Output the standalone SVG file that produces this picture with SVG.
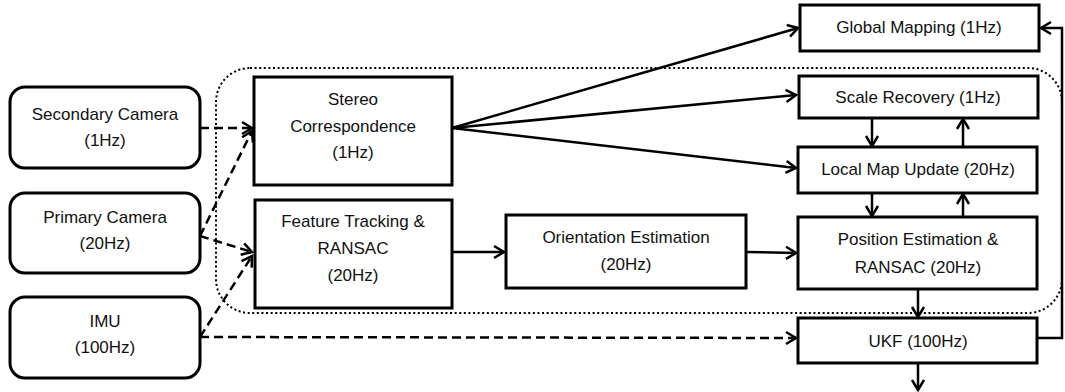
<svg xmlns="http://www.w3.org/2000/svg" width="1065" height="392" viewBox="0 0 1065 392">
<style>
.box{fill:#fff;stroke:#000;stroke-width:3}
.t{font-family:"Liberation Sans",Arial,sans-serif;font-size:17px;fill:#111;text-anchor:middle}
.c{fill:none;stroke:#000;stroke-width:2.5}
.d{fill:none;stroke:#000;stroke-width:2.5;stroke-dasharray:9 5}
.dot{fill:none;stroke:#000;stroke-width:2;stroke-dasharray:2 2.6}
</style>
<defs>
<marker id="ah" markerUnits="userSpaceOnUse" markerWidth="14" markerHeight="14" viewBox="0 0 14 14" refX="12" refY="7" orient="auto" overflow="visible">
<path d="M2,1 L12,7 L2,13" fill="none" stroke="#000" stroke-width="2.5" stroke-dasharray="none"/>
</marker>
</defs>
<rect class="dot" x="216" y="68" width="846" height="245" rx="34" ry="34"/>
<g id="connectors">
<path class="d" d="M200,128 L252,128" marker-end="url(#ah)"/>
<path class="d" d="M200,236 L252,131" marker-end="url(#ah)"/>
<path class="d" d="M200,236 L252,252" marker-end="url(#ah)"/>
<path class="d" d="M200,337 L252,256" marker-end="url(#ah)"/>
<path class="d" d="M200,337 L796,338" marker-end="url(#ah)"/>
<path class="c" d="M452,128 L798,28" marker-end="url(#ah)"/>
<path class="c" d="M452,128 L796,95" marker-end="url(#ah)"/>
<path class="c" d="M452,128 L796,168" marker-end="url(#ah)"/>
<path class="c" d="M452,252 L504,252" marker-end="url(#ah)"/>
<path class="c" d="M746,252 L796,253" marker-end="url(#ah)"/>
<path class="c" d="M872,118 L872,146" marker-end="url(#ah)"/>
<path class="c" d="M963,147 L963,119" marker-end="url(#ah)"/>
<path class="c" d="M872,193 L872,216" marker-end="url(#ah)"/>
<path class="c" d="M963,217 L963,194" marker-end="url(#ah)"/>
<path class="c" d="M918,289 L918,317" marker-end="url(#ah)"/>
<path class="c" d="M918,363 L918,390" marker-end="url(#ah)"/>
<path class="c" d="M1037,338 L1062,338 L1062,28 L1041,28" marker-end="url(#ah)"/>
</g>
<g id="secondary-camera">
<rect class="box" x="10" y="87" width="190" height="81" rx="15"/>
<text class="t" x="105" y="120">Secondary Camera</text>
<text class="t" x="105" y="146">(1Hz)</text>
</g>
<g id="primary-camera">
<rect class="box" x="10" y="193" width="190" height="80" rx="15"/>
<text class="t" x="105" y="223">Primary Camera</text>
<text class="t" x="105" y="249">(20Hz)</text>
</g>
<g id="imu">
<rect class="box" x="10" y="297" width="190" height="81" rx="15"/>
<text class="t" x="105" y="327">IMU</text>
<text class="t" x="105" y="353">(100Hz)</text>
</g>
<g id="stereo">
<rect class="box" x="254" y="77" width="198" height="108"/>
<text class="t" x="353" y="105">Stereo</text>
<text class="t" x="353" y="132">Correspondence</text>
<text class="t" x="353" y="158">(1Hz)</text>
</g>
<g id="feature-tracking">
<rect class="box" x="255" y="200" width="197" height="108"/>
<text class="t" x="353" y="227">Feature Tracking &amp;</text>
<text class="t" x="353" y="254">RANSAC</text>
<text class="t" x="353" y="281">(20Hz)</text>
</g>
<g id="orientation">
<rect class="box" x="506" y="215" width="240" height="73"/>
<text class="t" x="626" y="243">Orientation Estimation</text>
<text class="t" x="626" y="270">(20Hz)</text>
</g>
<g id="global-mapping">
<rect class="box" x="800" y="5" width="239" height="46"/>
<text class="t" x="919" y="33">Global Mapping (1Hz)</text>
</g>
<g id="scale-recovery">
<rect class="box" x="799" y="76" width="239" height="42"/>
<text class="t" x="918" y="103">Scale Recovery (1Hz)</text>
</g>
<g id="local-map">
<rect class="box" x="798" y="147" width="239" height="46"/>
<text class="t" x="918" y="175">Local Map Update (20Hz)</text>
</g>
<g id="position">
<rect class="box" x="798" y="217" width="239" height="72"/>
<text class="t" x="918" y="245">Position Estimation &amp;</text>
<text class="t" x="918" y="273">RANSAC (20Hz)</text>
</g>
<g id="ukf">
<rect class="box" x="798" y="318" width="239" height="45"/>
<text class="t" x="918" y="347">UKF (100Hz)</text>
</g>
</svg>
